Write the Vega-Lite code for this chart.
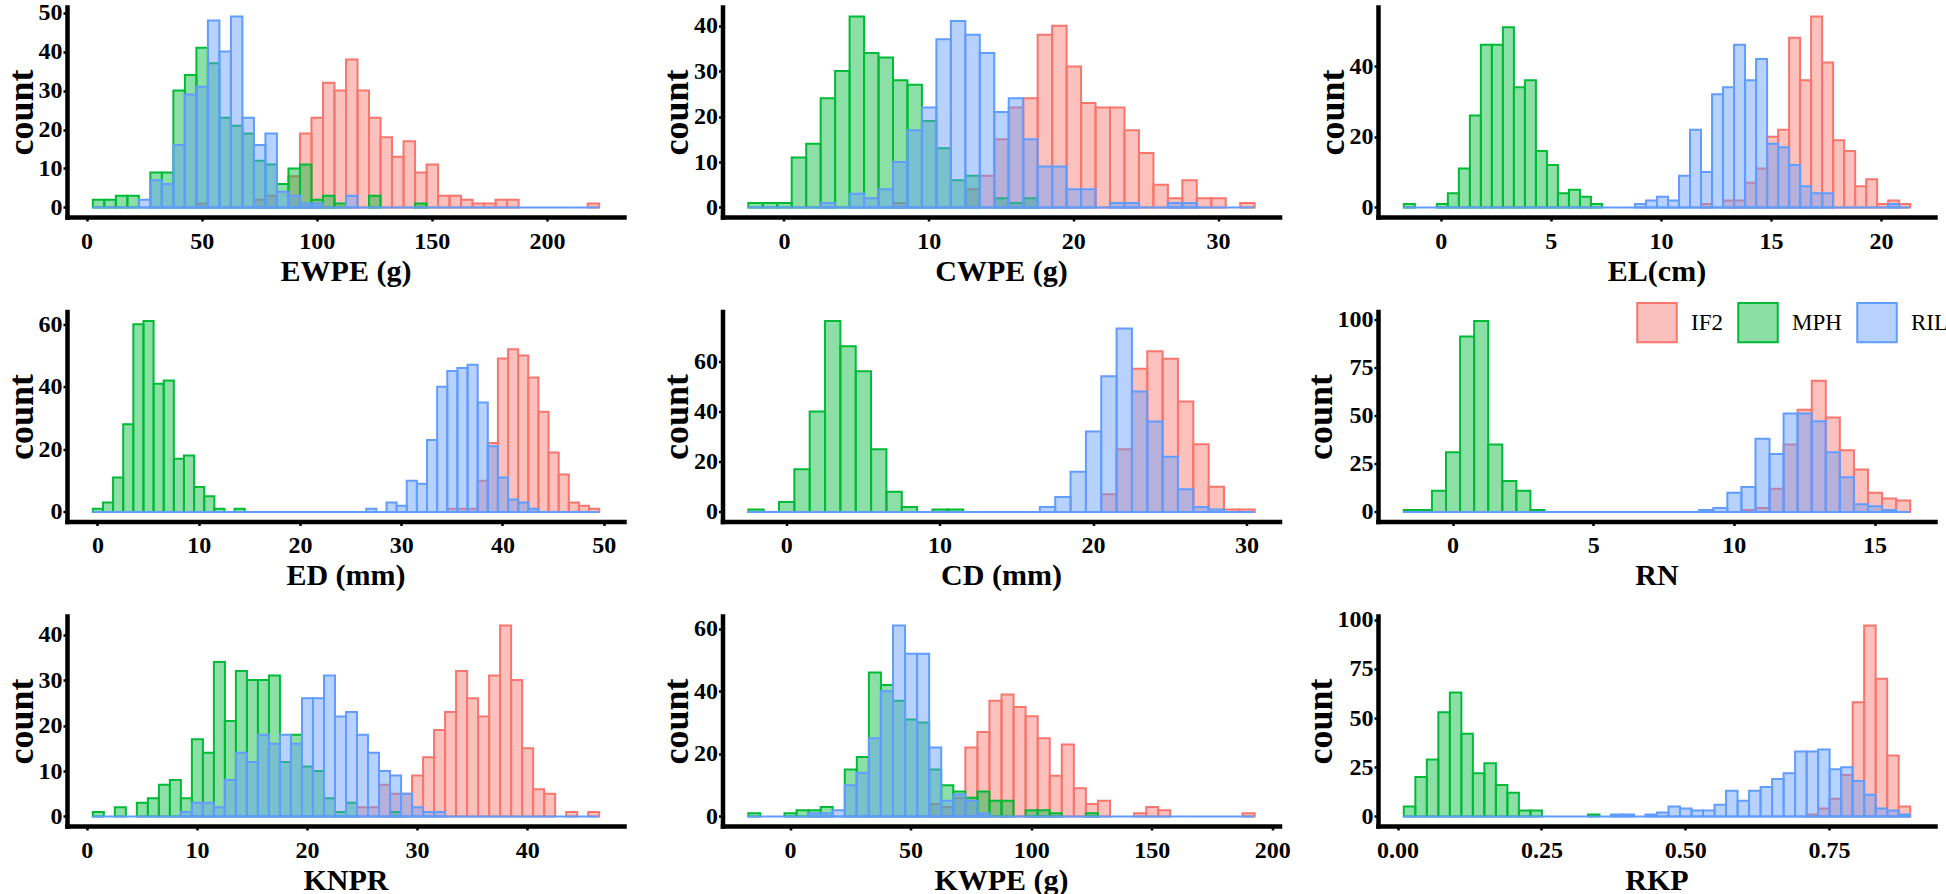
{
"$schema": "https://vega.github.io/schema/vega-lite/v6.json",
"padding": {"left": 3, "top": 0, "right": 0, "bottom": 0},
"background": "white",
"columns": 3,
"bounds": "flush",
"spacing": {"row": 94.5, "column": 98.5},
"resolve": {"scale": {"fill": "independent", "stroke": "independent"}, "legend": {"fill": "independent", "stroke": "independent"}},
"datasets": {
"EWPE": [
{"g":"IF2","x":47.5,"c":1},{"g":"IF2","x":72.5,"c":2},{"g":"IF2","x":77.5,"c":3},{"g":"IF2","x":87.5,"c":8},{"g":"IF2","x":92.5,"c":19},{"g":"IF2","x":97.5,"c":23},{"g":"IF2","x":102.5,"c":32},{"g":"IF2","x":107.5,"c":30},{"g":"IF2","x":112.5,"c":38},{"g":"IF2","x":117.5,"c":30},{"g":"IF2","x":122.5,"c":23},{"g":"IF2","x":127.5,"c":18},{"g":"IF2","x":132.5,"c":13},{"g":"IF2","x":137.5,"c":17},{"g":"IF2","x":142.5,"c":9},{"g":"IF2","x":147.5,"c":11},{"g":"IF2","x":152.5,"c":3},{"g":"IF2","x":157.5,"c":3},{"g":"IF2","x":162.5,"c":2},{"g":"IF2","x":167.5,"c":1},{"g":"IF2","x":172.5,"c":1},{"g":"IF2","x":177.5,"c":2},{"g":"IF2","x":182.5,"c":2},{"g":"IF2","x":217.5,"c":1},
{"g":"MPH","x":2.5,"c":2},{"g":"MPH","x":7.5,"c":2},{"g":"MPH","x":12.5,"c":3},{"g":"MPH","x":17.5,"c":3},{"g":"MPH","x":27.5,"c":9},{"g":"MPH","x":32.5,"c":9},{"g":"MPH","x":37.5,"c":30},{"g":"MPH","x":42.5,"c":34},{"g":"MPH","x":47.5,"c":41},{"g":"MPH","x":52.5,"c":37},{"g":"MPH","x":57.5,"c":23},{"g":"MPH","x":62.5,"c":21},{"g":"MPH","x":67.5,"c":19},{"g":"MPH","x":72.5,"c":12},{"g":"MPH","x":77.5,"c":11},{"g":"MPH","x":82.5,"c":6},{"g":"MPH","x":87.5,"c":10},{"g":"MPH","x":92.5,"c":11},{"g":"MPH","x":97.5,"c":2},{"g":"MPH","x":102.5,"c":3},{"g":"MPH","x":107.5,"c":1},{"g":"MPH","x":122.5,"c":3},{"g":"MPH","x":142.5,"c":1},
{"g":"RIL","x":22.5,"c":2},{"g":"RIL","x":27.5,"c":7},{"g":"RIL","x":32.5,"c":6},{"g":"RIL","x":37.5,"c":16},{"g":"RIL","x":42.5,"c":29},{"g":"RIL","x":47.5,"c":31},{"g":"RIL","x":52.5,"c":48},{"g":"RIL","x":57.5,"c":40},{"g":"RIL","x":62.5,"c":49},{"g":"RIL","x":67.5,"c":23},{"g":"RIL","x":72.5,"c":16},{"g":"RIL","x":77.5,"c":19},{"g":"RIL","x":82.5,"c":4},{"g":"RIL","x":87.5,"c":3},{"g":"RIL","x":92.5,"c":1},{"g":"RIL","x":97.5,"c":1},{"g":"RIL","x":112.5,"c":3}
],
"CWPE": [
{"g":"IF2","x":7.5,"c":1},{"g":"IF2","x":12.5,"c":4},{"g":"IF2","x":13.5,"c":7},{"g":"IF2","x":14.5,"c":15},{"g":"IF2","x":15.5,"c":22},{"g":"IF2","x":16.5,"c":24},{"g":"IF2","x":17.5,"c":38},{"g":"IF2","x":18.5,"c":40},{"g":"IF2","x":19.5,"c":31},{"g":"IF2","x":20.5,"c":23},{"g":"IF2","x":21.5,"c":22},{"g":"IF2","x":22.5,"c":22},{"g":"IF2","x":23.5,"c":17},{"g":"IF2","x":24.5,"c":12},{"g":"IF2","x":25.5,"c":5},{"g":"IF2","x":26.5,"c":2},{"g":"IF2","x":27.5,"c":6},{"g":"IF2","x":28.5,"c":2},{"g":"IF2","x":29.5,"c":2},{"g":"IF2","x":31.5,"c":1},
{"g":"MPH","x":-2.5,"c":1},{"g":"MPH","x":-1.5,"c":1},{"g":"MPH","x":-0.5,"c":1},{"g":"MPH","x":0.5,"c":11},{"g":"MPH","x":1.5,"c":14},{"g":"MPH","x":2.5,"c":24},{"g":"MPH","x":3.5,"c":30},{"g":"MPH","x":4.5,"c":42},{"g":"MPH","x":5.5,"c":34},{"g":"MPH","x":6.5,"c":33},{"g":"MPH","x":7.5,"c":28},{"g":"MPH","x":8.5,"c":27},{"g":"MPH","x":9.5,"c":19},{"g":"MPH","x":10.5,"c":13},{"g":"MPH","x":11.5,"c":6},{"g":"MPH","x":12.5,"c":7},{"g":"MPH","x":14.5,"c":2},{"g":"MPH","x":15.5,"c":1},{"g":"MPH","x":16.5,"c":2},
{"g":"RIL","x":2.5,"c":1},{"g":"RIL","x":4.5,"c":3},{"g":"RIL","x":5.5,"c":2},{"g":"RIL","x":6.5,"c":4},{"g":"RIL","x":7.5,"c":10},{"g":"RIL","x":8.5,"c":17},{"g":"RIL","x":9.5,"c":22},{"g":"RIL","x":10.5,"c":37},{"g":"RIL","x":11.5,"c":41},{"g":"RIL","x":12.5,"c":38},{"g":"RIL","x":13.5,"c":34},{"g":"RIL","x":14.5,"c":21},{"g":"RIL","x":15.5,"c":24},{"g":"RIL","x":16.5,"c":15},{"g":"RIL","x":17.5,"c":9},{"g":"RIL","x":18.5,"c":9},{"g":"RIL","x":19.5,"c":4},{"g":"RIL","x":20.5,"c":4},{"g":"RIL","x":22.5,"c":1},{"g":"RIL","x":23.5,"c":1},{"g":"RIL","x":26.5,"c":1},{"g":"RIL","x":27.5,"c":1}
],
"EL": [
{"g":"IF2","x":11.8,"c":1},{"g":"IF2","x":12.8,"c":2},{"g":"IF2","x":13.3,"c":2},{"g":"IF2","x":13.8,"c":7},{"g":"IF2","x":14.3,"c":11},{"g":"IF2","x":14.8,"c":20},{"g":"IF2","x":15.3,"c":22},{"g":"IF2","x":15.8,"c":48},{"g":"IF2","x":16.3,"c":36},{"g":"IF2","x":16.8,"c":54},{"g":"IF2","x":17.3,"c":41},{"g":"IF2","x":17.8,"c":19},{"g":"IF2","x":18.3,"c":16},{"g":"IF2","x":18.8,"c":6},{"g":"IF2","x":19.3,"c":8},{"g":"IF2","x":19.8,"c":1},{"g":"IF2","x":20.3,"c":2},{"g":"IF2","x":20.8,"c":1},
{"g":"MPH","x":-1.7,"c":1},{"g":"MPH","x":-0.2,"c":1},{"g":"MPH","x":0.3,"c":4},{"g":"MPH","x":0.8,"c":11},{"g":"MPH","x":1.3,"c":26},{"g":"MPH","x":1.8,"c":46},{"g":"MPH","x":2.3,"c":46},{"g":"MPH","x":2.8,"c":51},{"g":"MPH","x":3.3,"c":34},{"g":"MPH","x":3.8,"c":36},{"g":"MPH","x":4.3,"c":16},{"g":"MPH","x":4.8,"c":12},{"g":"MPH","x":5.3,"c":4},{"g":"MPH","x":5.8,"c":5},{"g":"MPH","x":6.3,"c":3},{"g":"MPH","x":6.8,"c":1},
{"g":"RIL","x":8.8,"c":1},{"g":"RIL","x":9.3,"c":2},{"g":"RIL","x":9.8,"c":3},{"g":"RIL","x":10.3,"c":2},{"g":"RIL","x":10.8,"c":9},{"g":"RIL","x":11.3,"c":22},{"g":"RIL","x":11.8,"c":10},{"g":"RIL","x":12.3,"c":32},{"g":"RIL","x":12.8,"c":34},{"g":"RIL","x":13.3,"c":46},{"g":"RIL","x":13.8,"c":36},{"g":"RIL","x":14.3,"c":42},{"g":"RIL","x":14.8,"c":18},{"g":"RIL","x":15.3,"c":17},{"g":"RIL","x":15.8,"c":12},{"g":"RIL","x":16.3,"c":6},{"g":"RIL","x":16.8,"c":4},{"g":"RIL","x":17.3,"c":4},{"g":"RIL","x":20.3,"c":1}
],
"ED": [
{"g":"IF2","x":34.5,"c":1},{"g":"IF2","x":35.5,"c":1},{"g":"IF2","x":36.5,"c":1},{"g":"IF2","x":37.5,"c":10},{"g":"IF2","x":38.5,"c":22},{"g":"IF2","x":39.5,"c":49},{"g":"IF2","x":40.5,"c":52},{"g":"IF2","x":41.5,"c":50},{"g":"IF2","x":42.5,"c":43},{"g":"IF2","x":43.5,"c":32},{"g":"IF2","x":44.5,"c":19},{"g":"IF2","x":45.5,"c":12},{"g":"IF2","x":46.5,"c":3},{"g":"IF2","x":47.5,"c":2},{"g":"IF2","x":48.5,"c":1},
{"g":"MPH","x":-0.5,"c":1},{"g":"MPH","x":0.5,"c":3},{"g":"MPH","x":1.5,"c":11},{"g":"MPH","x":2.5,"c":28},{"g":"MPH","x":3.5,"c":60},{"g":"MPH","x":4.5,"c":61},{"g":"MPH","x":5.5,"c":41},{"g":"MPH","x":6.5,"c":42},{"g":"MPH","x":7.5,"c":17},{"g":"MPH","x":8.5,"c":18},{"g":"MPH","x":9.5,"c":8},{"g":"MPH","x":10.5,"c":5},{"g":"MPH","x":11.5,"c":1},{"g":"MPH","x":13.5,"c":1},
{"g":"RIL","x":26.5,"c":1},{"g":"RIL","x":28.5,"c":3},{"g":"RIL","x":29.5,"c":2},{"g":"RIL","x":30.5,"c":10},{"g":"RIL","x":31.5,"c":9},{"g":"RIL","x":32.5,"c":23},{"g":"RIL","x":33.5,"c":40},{"g":"RIL","x":34.5,"c":45},{"g":"RIL","x":35.5,"c":46},{"g":"RIL","x":36.5,"c":47},{"g":"RIL","x":37.5,"c":35},{"g":"RIL","x":38.5,"c":21},{"g":"RIL","x":39.5,"c":11},{"g":"RIL","x":40.5,"c":4},{"g":"RIL","x":41.5,"c":3},{"g":"RIL","x":42.5,"c":1}
],
"CD": [
{"g":"IF2","x":20.5,"c":7},{"g":"IF2","x":21.5,"c":25},{"g":"IF2","x":22.5,"c":57},{"g":"IF2","x":23.5,"c":64},{"g":"IF2","x":24.5,"c":61},{"g":"IF2","x":25.5,"c":44},{"g":"IF2","x":26.5,"c":27},{"g":"IF2","x":27.5,"c":10},{"g":"IF2","x":28.5,"c":1},{"g":"IF2","x":29.5,"c":1},
{"g":"MPH","x":-2.5,"c":1},{"g":"MPH","x":-0.5,"c":4},{"g":"MPH","x":0.5,"c":17},{"g":"MPH","x":1.5,"c":40},{"g":"MPH","x":2.5,"c":76},{"g":"MPH","x":3.5,"c":66},{"g":"MPH","x":4.5,"c":56},{"g":"MPH","x":5.5,"c":25},{"g":"MPH","x":6.5,"c":8},{"g":"MPH","x":7.5,"c":2},{"g":"MPH","x":9.5,"c":1},{"g":"MPH","x":10.5,"c":1},
{"g":"RIL","x":16.5,"c":2},{"g":"RIL","x":17.5,"c":6},{"g":"RIL","x":18.5,"c":16},{"g":"RIL","x":19.5,"c":32},{"g":"RIL","x":20.5,"c":54},{"g":"RIL","x":21.5,"c":73},{"g":"RIL","x":22.5,"c":48},{"g":"RIL","x":23.5,"c":36},{"g":"RIL","x":24.5,"c":22},{"g":"RIL","x":25.5,"c":9},{"g":"RIL","x":26.5,"c":2},{"g":"RIL","x":27.5,"c":1}
],
"RN": [
{"g":"IF2","x":10.25,"c":1},{"g":"IF2","x":10.75,"c":2},{"g":"IF2","x":11.25,"c":12},{"g":"IF2","x":11.75,"c":35},{"g":"IF2","x":12.25,"c":53},{"g":"IF2","x":12.75,"c":68},{"g":"IF2","x":13.25,"c":49},{"g":"IF2","x":13.75,"c":32},{"g":"IF2","x":14.25,"c":22},{"g":"IF2","x":14.75,"c":10},{"g":"IF2","x":15.25,"c":7},{"g":"IF2","x":15.75,"c":6},
{"g":"MPH","x":-1.75,"c":1},{"g":"MPH","x":-1.25,"c":1},{"g":"MPH","x":-0.75,"c":11},{"g":"MPH","x":-0.25,"c":31},{"g":"MPH","x":0.25,"c":91},{"g":"MPH","x":0.75,"c":99},{"g":"MPH","x":1.25,"c":35},{"g":"MPH","x":1.75,"c":16},{"g":"MPH","x":2.25,"c":11},{"g":"MPH","x":2.75,"c":1},
{"g":"RIL","x":8.75,"c":1},{"g":"RIL","x":9.25,"c":2},{"g":"RIL","x":9.75,"c":10},{"g":"RIL","x":10.25,"c":13},{"g":"RIL","x":10.75,"c":38},{"g":"RIL","x":11.25,"c":30},{"g":"RIL","x":11.75,"c":51},{"g":"RIL","x":12.25,"c":51},{"g":"RIL","x":12.75,"c":47},{"g":"RIL","x":13.25,"c":31},{"g":"RIL","x":13.75,"c":18},{"g":"RIL","x":14.25,"c":4},{"g":"RIL","x":14.75,"c":3},{"g":"RIL","x":15.25,"c":1}
],
"KNPR": [
{"g":"IF2","x":24.5,"c":2},{"g":"IF2","x":25.5,"c":2},{"g":"IF2","x":26.5,"c":7},{"g":"IF2","x":27.5,"c":5},{"g":"IF2","x":28.5,"c":5},{"g":"IF2","x":29.5,"c":9},{"g":"IF2","x":30.5,"c":13},{"g":"IF2","x":31.5,"c":19},{"g":"IF2","x":32.5,"c":23},{"g":"IF2","x":33.5,"c":32},{"g":"IF2","x":34.5,"c":26},{"g":"IF2","x":35.5,"c":22},{"g":"IF2","x":36.5,"c":31},{"g":"IF2","x":37.5,"c":42},{"g":"IF2","x":38.5,"c":30},{"g":"IF2","x":39.5,"c":15},{"g":"IF2","x":40.5,"c":6},{"g":"IF2","x":41.5,"c":5},{"g":"IF2","x":43.5,"c":1},{"g":"IF2","x":45.5,"c":1},
{"g":"MPH","x":0.5,"c":1},{"g":"MPH","x":2.5,"c":2},{"g":"MPH","x":4.5,"c":3},{"g":"MPH","x":5.5,"c":4},{"g":"MPH","x":6.5,"c":7},{"g":"MPH","x":7.5,"c":8},{"g":"MPH","x":8.5,"c":4},{"g":"MPH","x":9.5,"c":17},{"g":"MPH","x":10.5,"c":14},{"g":"MPH","x":11.5,"c":34},{"g":"MPH","x":12.5,"c":21},{"g":"MPH","x":13.5,"c":32},{"g":"MPH","x":14.5,"c":30},{"g":"MPH","x":15.5,"c":30},{"g":"MPH","x":16.5,"c":31},{"g":"MPH","x":17.5,"c":12},{"g":"MPH","x":18.5,"c":18},{"g":"MPH","x":19.5,"c":11},{"g":"MPH","x":20.5,"c":10},{"g":"MPH","x":21.5,"c":4},{"g":"MPH","x":22.5,"c":1},{"g":"MPH","x":23.5,"c":3},{"g":"MPH","x":27.5,"c":1},
{"g":"RIL","x":8.5,"c":1},{"g":"RIL","x":9.5,"c":3},{"g":"RIL","x":10.5,"c":3},{"g":"RIL","x":11.5,"c":2},{"g":"RIL","x":12.5,"c":8},{"g":"RIL","x":13.5,"c":14},{"g":"RIL","x":14.5,"c":12},{"g":"RIL","x":15.5,"c":18},{"g":"RIL","x":16.5,"c":16},{"g":"RIL","x":17.5,"c":18},{"g":"RIL","x":18.5,"c":16},{"g":"RIL","x":19.5,"c":26},{"g":"RIL","x":20.5,"c":26},{"g":"RIL","x":21.5,"c":31},{"g":"RIL","x":22.5,"c":22},{"g":"RIL","x":23.5,"c":23},{"g":"RIL","x":24.5,"c":18},{"g":"RIL","x":25.5,"c":14},{"g":"RIL","x":26.5,"c":10},{"g":"RIL","x":27.5,"c":9},{"g":"RIL","x":28.5,"c":5},{"g":"RIL","x":29.5,"c":2},{"g":"RIL","x":30.5,"c":1},{"g":"RIL","x":31.5,"c":1}
],
"KWPE": [
{"g":"IF2","x":57.5,"c":4},{"g":"IF2","x":62.5,"c":3},{"g":"IF2","x":67.5,"c":6},{"g":"IF2","x":72.5,"c":22},{"g":"IF2","x":77.5,"c":27},{"g":"IF2","x":82.5,"c":37},{"g":"IF2","x":87.5,"c":39},{"g":"IF2","x":92.5,"c":35},{"g":"IF2","x":97.5,"c":32},{"g":"IF2","x":102.5,"c":25},{"g":"IF2","x":107.5,"c":13},{"g":"IF2","x":112.5,"c":23},{"g":"IF2","x":117.5,"c":9},{"g":"IF2","x":122.5,"c":4},{"g":"IF2","x":127.5,"c":5},{"g":"IF2","x":142.5,"c":1},{"g":"IF2","x":147.5,"c":3},{"g":"IF2","x":152.5,"c":2},{"g":"IF2","x":187.5,"c":1},
{"g":"MPH","x":-17.5,"c":1},{"g":"MPH","x":-2.5,"c":1},{"g":"MPH","x":2.5,"c":2},{"g":"MPH","x":7.5,"c":2},{"g":"MPH","x":12.5,"c":3},{"g":"MPH","x":22.5,"c":15},{"g":"MPH","x":27.5,"c":19},{"g":"MPH","x":32.5,"c":46},{"g":"MPH","x":37.5,"c":42},{"g":"MPH","x":42.5,"c":37},{"g":"MPH","x":47.5,"c":31},{"g":"MPH","x":52.5,"c":30},{"g":"MPH","x":57.5,"c":15},{"g":"MPH","x":62.5,"c":10},{"g":"MPH","x":67.5,"c":8},{"g":"MPH","x":72.5,"c":6},{"g":"MPH","x":77.5,"c":8},{"g":"MPH","x":82.5,"c":5},{"g":"MPH","x":87.5,"c":5},{"g":"MPH","x":97.5,"c":2},{"g":"MPH","x":102.5,"c":2},{"g":"MPH","x":107.5,"c":1},{"g":"MPH","x":122.5,"c":1},
{"g":"RIL","x":7.5,"c":1},{"g":"RIL","x":12.5,"c":1},{"g":"RIL","x":17.5,"c":2},{"g":"RIL","x":22.5,"c":10},{"g":"RIL","x":27.5,"c":14},{"g":"RIL","x":32.5,"c":25},{"g":"RIL","x":37.5,"c":40},{"g":"RIL","x":42.5,"c":61},{"g":"RIL","x":47.5,"c":52},{"g":"RIL","x":52.5,"c":52},{"g":"RIL","x":57.5,"c":22},{"g":"RIL","x":62.5,"c":5},{"g":"RIL","x":67.5,"c":7},{"g":"RIL","x":72.5,"c":5},{"g":"RIL","x":77.5,"c":1}
],
"RKP": [
{"g":"IF2","x":0.71,"c":1},{"g":"IF2","x":0.73,"c":4},{"g":"IF2","x":0.75,"c":9},{"g":"IF2","x":0.77,"c":21},{"g":"IF2","x":0.79,"c":58},{"g":"IF2","x":0.81,"c":97},{"g":"IF2","x":0.83,"c":70},{"g":"IF2","x":0.85,"c":31},{"g":"IF2","x":0.87,"c":5},
{"g":"MPH","x":0.01,"c":5},{"g":"MPH","x":0.03,"c":20},{"g":"MPH","x":0.05,"c":29},{"g":"MPH","x":0.07,"c":53},{"g":"MPH","x":0.09,"c":63},{"g":"MPH","x":0.11,"c":42},{"g":"MPH","x":0.13,"c":22},{"g":"MPH","x":0.15,"c":27},{"g":"MPH","x":0.17,"c":16},{"g":"MPH","x":0.19,"c":12},{"g":"MPH","x":0.21,"c":3},{"g":"MPH","x":0.23,"c":3},{"g":"MPH","x":0.33,"c":1},
{"g":"RIL","x":0.37,"c":1},{"g":"RIL","x":0.39,"c":1},{"g":"RIL","x":0.43,"c":1},{"g":"RIL","x":0.45,"c":2},{"g":"RIL","x":0.47,"c":5},{"g":"RIL","x":0.49,"c":4},{"g":"RIL","x":0.51,"c":3},{"g":"RIL","x":0.53,"c":3},{"g":"RIL","x":0.55,"c":6},{"g":"RIL","x":0.57,"c":13},{"g":"RIL","x":0.59,"c":8},{"g":"RIL","x":0.61,"c":13},{"g":"RIL","x":0.63,"c":15},{"g":"RIL","x":0.65,"c":19},{"g":"RIL","x":0.67,"c":22},{"g":"RIL","x":0.69,"c":33},{"g":"RIL","x":0.71,"c":33},{"g":"RIL","x":0.73,"c":34},{"g":"RIL","x":0.75,"c":24},{"g":"RIL","x":0.77,"c":25},{"g":"RIL","x":0.79,"c":18},{"g":"RIL","x":0.81,"c":11},{"g":"RIL","x":0.83,"c":4},{"g":"RIL","x":0.85,"c":3},{"g":"RIL","x":0.87,"c":1}
]
},
"concat": [
{"width": 557, "height": 210, "layer": [
 {"data": {"name": "EWPE"}, "mark": {"type": "bar", "binSpacing": 0, "fillOpacity": 0.45, "strokeWidth": 2},
  "encoding": {
   "x": {"field": "x", "type": "quantitative", "bin": {"binned": true, "step": 5}, "title": "EWPE (g)", "scale": {"domain": [-8.5, 233.5], "nice": false, "zero": false}, "axis": {"values": [0, 50, 100, 150, 200], "format": "d"}},
   "y": {"field": "c", "type": "quantitative", "stack": null, "title": "count", "scale": {"domain": [-2.45, 51.45], "nice": false, "zero": false}, "axis": {"values": [0, 10, 20, 30, 40, 50]}},
   "fill": {"field": "g", "type": "nominal", "legend": null},
   "stroke": {"field": "g", "type": "nominal", "legend": null}}},
 {"data": {"values": [{"lo": 2.5, "hi": 222.5}]}, "mark": {"type": "rule", "stroke": "#619CFF", "strokeWidth": 2},
  "encoding": {"x": {"field": "lo", "type": "quantitative", "title": "EWPE (g)", "scale": {"domain": [-8.5, 233.5], "nice": false, "zero": false}, "axis": {"values": [0, 50, 100, 150, 200], "format": "d"}}, "x2": {"field": "hi"}, "y": {"datum": 0, "type": "quantitative", "title": "count", "scale": {"domain": [-2.45, 51.45], "nice": false, "zero": false}, "axis": {"values": [0, 10, 20, 30, 40, 50]}}}}
]},
{"width": 557, "height": 210, "layer": [
 {"data": {"name": "CWPE"}, "mark": {"type": "bar", "binSpacing": 0, "fillOpacity": 0.45, "strokeWidth": 2},
  "encoding": {
   "x": {"field": "x", "type": "quantitative", "bin": {"binned": true, "step": 1}, "title": "CWPE (g)", "scale": {"domain": [-4.25, 34.25], "nice": false, "zero": false}, "axis": {"values": [0, 10, 20, 30], "format": "d"}},
   "y": {"field": "c", "type": "quantitative", "stack": null, "title": "count", "scale": {"domain": [-2.1, 44.1], "nice": false, "zero": false}, "axis": {"values": [0, 10, 20, 30, 40]}},
   "fill": {"field": "g", "type": "nominal", "legend": null},
   "stroke": {"field": "g", "type": "nominal", "legend": null}}},
 {"data": {"values": [{"lo": -2.5, "hi": 32.5}]}, "mark": {"type": "rule", "stroke": "#619CFF", "strokeWidth": 2},
  "encoding": {"x": {"field": "lo", "type": "quantitative", "title": "CWPE (g)", "scale": {"domain": [-4.25, 34.25], "nice": false, "zero": false}, "axis": {"values": [0, 10, 20, 30], "format": "d"}}, "x2": {"field": "hi"}, "y": {"datum": 0, "type": "quantitative", "title": "count", "scale": {"domain": [-2.1, 44.1], "nice": false, "zero": false}, "axis": {"values": [0, 10, 20, 30, 40]}}}}
]},
{"width": 557, "height": 210, "layer": [
 {"data": {"name": "EL"}, "mark": {"type": "bar", "binSpacing": 0, "fillOpacity": 0.45, "strokeWidth": 2},
  "encoding": {
   "x": {"field": "x", "type": "quantitative", "bin": {"binned": true, "step": 0.5}, "title": "EL(cm)", "scale": {"domain": [-2.85, 22.45], "nice": false, "zero": false}, "axis": {"values": [0, 5, 10, 15, 20], "format": "d"}},
   "y": {"field": "c", "type": "quantitative", "stack": null, "title": "count", "scale": {"domain": [-2.7, 56.7], "nice": false, "zero": false}, "axis": {"values": [0, 20, 40]}},
   "fill": {"field": "g", "type": "nominal", "legend": null},
   "stroke": {"field": "g", "type": "nominal", "legend": null}}},
 {"data": {"values": [{"lo": -1.7, "hi": 21.3}]}, "mark": {"type": "rule", "stroke": "#619CFF", "strokeWidth": 2},
  "encoding": {"x": {"field": "lo", "type": "quantitative", "title": "EL(cm)", "scale": {"domain": [-2.85, 22.45], "nice": false, "zero": false}, "axis": {"values": [0, 5, 10, 15, 20], "format": "d"}}, "x2": {"field": "hi"}, "y": {"datum": 0, "type": "quantitative", "title": "count", "scale": {"domain": [-2.7, 56.7], "nice": false, "zero": false}, "axis": {"values": [0, 20, 40]}}}}
]},
{"width": 557, "height": 210, "layer": [
 {"data": {"name": "ED"}, "mark": {"type": "bar", "binSpacing": 0, "fillOpacity": 0.45, "strokeWidth": 2},
  "encoding": {
   "x": {"field": "x", "type": "quantitative", "bin": {"binned": true, "step": 1}, "title": "ED (mm)", "scale": {"domain": [-3, 52], "nice": false, "zero": false}, "axis": {"values": [0, 10, 20, 30, 40, 50], "format": "d"}},
   "y": {"field": "c", "type": "quantitative", "stack": null, "title": "count", "scale": {"domain": [-3.05, 64.05], "nice": false, "zero": false}, "axis": {"values": [0, 20, 40, 60]}},
   "fill": {"field": "g", "type": "nominal", "legend": null},
   "stroke": {"field": "g", "type": "nominal", "legend": null}}},
 {"data": {"values": [{"lo": -0.5, "hi": 49.5}]}, "mark": {"type": "rule", "stroke": "#619CFF", "strokeWidth": 2},
  "encoding": {"x": {"field": "lo", "type": "quantitative", "title": "ED (mm)", "scale": {"domain": [-3, 52], "nice": false, "zero": false}, "axis": {"values": [0, 10, 20, 30, 40, 50], "format": "d"}}, "x2": {"field": "hi"}, "y": {"datum": 0, "type": "quantitative", "title": "count", "scale": {"domain": [-3.05, 64.05], "nice": false, "zero": false}, "axis": {"values": [0, 20, 40, 60]}}}}
]},
{"width": 557, "height": 210, "layer": [
 {"data": {"name": "CD"}, "mark": {"type": "bar", "binSpacing": 0, "fillOpacity": 0.45, "strokeWidth": 2},
  "encoding": {
   "x": {"field": "x", "type": "quantitative", "bin": {"binned": true, "step": 1}, "title": "CD (mm)", "scale": {"domain": [-4.15, 32.15], "nice": false, "zero": false}, "axis": {"values": [0, 10, 20, 30], "format": "d"}},
   "y": {"field": "c", "type": "quantitative", "stack": null, "title": "count", "scale": {"domain": [-3.8, 79.8], "nice": false, "zero": false}, "axis": {"values": [0, 20, 40, 60]}},
   "fill": {"field": "g", "type": "nominal", "legend": null},
   "stroke": {"field": "g", "type": "nominal", "legend": null}}},
 {"data": {"values": [{"lo": -2.5, "hi": 30.5}]}, "mark": {"type": "rule", "stroke": "#619CFF", "strokeWidth": 2},
  "encoding": {"x": {"field": "lo", "type": "quantitative", "title": "CD (mm)", "scale": {"domain": [-4.15, 32.15], "nice": false, "zero": false}, "axis": {"values": [0, 10, 20, 30], "format": "d"}}, "x2": {"field": "hi"}, "y": {"datum": 0, "type": "quantitative", "title": "count", "scale": {"domain": [-3.8, 79.8], "nice": false, "zero": false}, "axis": {"values": [0, 20, 40, 60]}}}}
]},
{"width": 557, "height": 210, "layer": [
 {"data": {"name": "RN"}, "mark": {"type": "bar", "binSpacing": 0, "fillOpacity": 0.45, "strokeWidth": 2},
  "encoding": {
   "x": {"field": "x", "type": "quantitative", "bin": {"binned": true, "step": 0.5}, "title": "RN", "scale": {"domain": [-2.65, 17.15], "nice": false, "zero": false}, "axis": {"values": [0, 5, 10, 15], "format": "d"}},
   "y": {"field": "c", "type": "quantitative", "stack": null, "title": "count", "scale": {"domain": [-4.95, 103.95], "nice": false, "zero": false}, "axis": {"values": [0, 25, 50, 75, 100]}},
   "fill": {"field": "g", "type": "nominal", "legend": {"title": null, "orient": "none", "legendX": 258, "legendY": -10, "direction": "horizontal", "symbolType": "square", "symbolSize": 1560, "symbolOpacity": 0.45, "symbolStrokeColor": "transparent", "symbolStrokeWidth": 2, "labelFont": "Liberation Serif", "labelFontSize": 23, "labelFontWeight": "normal", "labelColor": "#000", "labelOpacity": 0, "labelOffset": 13, "columnPadding": 11, "padding": 0}},
   "stroke": {"field": "g", "type": "nominal", "scale": {"domain": ["IF2", "MPH", "RIL"]}, "legend": {"title": null, "orient": "none", "legendX": 258, "legendY": -10, "direction": "horizontal", "symbolType": "square", "symbolSize": 1560, "symbolFillColor": "transparent", "symbolStrokeWidth": 2, "labelFont": "Liberation Serif", "labelFontSize": 23, "labelFontWeight": "normal", "labelColor": "#000", "labelOffset": 13, "columnPadding": 11, "padding": 0}}}},
 {"data": {"values": [{"lo": -1.75, "hi": 16.25}]}, "mark": {"type": "rule", "stroke": "#619CFF", "strokeWidth": 2},
  "encoding": {"x": {"field": "lo", "type": "quantitative", "title": "RN", "scale": {"domain": [-2.65, 17.15], "nice": false, "zero": false}, "axis": {"values": [0, 5, 10, 15], "format": "d"}}, "x2": {"field": "hi"}, "y": {"datum": 0, "type": "quantitative", "title": "count", "scale": {"domain": [-4.95, 103.95], "nice": false, "zero": false}, "axis": {"values": [0, 25, 50, 75, 100]}}}}
]},
{"width": 557, "height": 210, "layer": [
 {"data": {"name": "KNPR"}, "mark": {"type": "bar", "binSpacing": 0, "fillOpacity": 0.45, "strokeWidth": 2},
  "encoding": {
   "x": {"field": "x", "type": "quantitative", "bin": {"binned": true, "step": 1}, "title": "KNPR", "scale": {"domain": [-1.8, 48.8], "nice": false, "zero": false}, "axis": {"values": [0, 10, 20, 30, 40], "format": "d"}},
   "y": {"field": "c", "type": "quantitative", "stack": null, "title": "count", "scale": {"domain": [-2.1, 44.1], "nice": false, "zero": false}, "axis": {"values": [0, 10, 20, 30, 40]}},
   "fill": {"field": "g", "type": "nominal", "legend": null},
   "stroke": {"field": "g", "type": "nominal", "legend": null}}},
 {"data": {"values": [{"lo": 0.5, "hi": 46.5}]}, "mark": {"type": "rule", "stroke": "#619CFF", "strokeWidth": 2},
  "encoding": {"x": {"field": "lo", "type": "quantitative", "title": "KNPR", "scale": {"domain": [-1.8, 48.8], "nice": false, "zero": false}, "axis": {"values": [0, 10, 20, 30, 40], "format": "d"}}, "x2": {"field": "hi"}, "y": {"datum": 0, "type": "quantitative", "title": "count", "scale": {"domain": [-2.1, 44.1], "nice": false, "zero": false}, "axis": {"values": [0, 10, 20, 30, 40]}}}}
]},
{"width": 557, "height": 210, "layer": [
 {"data": {"name": "KWPE"}, "mark": {"type": "bar", "binSpacing": 0, "fillOpacity": 0.45, "strokeWidth": 2},
  "encoding": {
   "x": {"field": "x", "type": "quantitative", "bin": {"binned": true, "step": 5}, "title": "KWPE (g)", "scale": {"domain": [-28, 203], "nice": false, "zero": false}, "axis": {"values": [0, 50, 100, 150, 200], "format": "d"}},
   "y": {"field": "c", "type": "quantitative", "stack": null, "title": "count", "scale": {"domain": [-3.05, 64.05], "nice": false, "zero": false}, "axis": {"values": [0, 20, 40, 60]}},
   "fill": {"field": "g", "type": "nominal", "legend": null},
   "stroke": {"field": "g", "type": "nominal", "legend": null}}},
 {"data": {"values": [{"lo": -17.5, "hi": 192.5}]}, "mark": {"type": "rule", "stroke": "#619CFF", "strokeWidth": 2},
  "encoding": {"x": {"field": "lo", "type": "quantitative", "title": "KWPE (g)", "scale": {"domain": [-28, 203], "nice": false, "zero": false}, "axis": {"values": [0, 50, 100, 150, 200], "format": "d"}}, "x2": {"field": "hi"}, "y": {"datum": 0, "type": "quantitative", "title": "count", "scale": {"domain": [-3.05, 64.05], "nice": false, "zero": false}, "axis": {"values": [0, 20, 40, 60]}}}}
]},
{"width": 557, "height": 210, "layer": [
 {"data": {"name": "RKP"}, "mark": {"type": "bar", "binSpacing": 0, "fillOpacity": 0.45, "strokeWidth": 2},
  "encoding": {
   "x": {"field": "x", "type": "quantitative", "bin": {"binned": true, "step": 0.02}, "title": "RKP", "scale": {"domain": [-0.034, 0.934], "nice": false, "zero": false}, "axis": {"values": [0, 0.25, 0.5, 0.75], "format": ".2f"}},
   "y": {"field": "c", "type": "quantitative", "stack": null, "title": "count", "scale": {"domain": [-4.85, 101.85], "nice": false, "zero": false}, "axis": {"values": [0, 25, 50, 75, 100]}},
   "fill": {"field": "g", "type": "nominal", "legend": null},
   "stroke": {"field": "g", "type": "nominal", "legend": null}}},
 {"data": {"values": [{"lo": 0.01, "hi": 0.89}]}, "mark": {"type": "rule", "stroke": "#619CFF", "strokeWidth": 2},
  "encoding": {"x": {"field": "lo", "type": "quantitative", "title": "RKP", "scale": {"domain": [-0.034, 0.934], "nice": false, "zero": false}, "axis": {"values": [0, 0.25, 0.5, 0.75], "format": ".2f"}}, "x2": {"field": "hi"}, "y": {"datum": 0, "type": "quantitative", "title": "count", "scale": {"domain": [-4.85, 101.85], "nice": false, "zero": false}, "axis": {"values": [0, 25, 50, 75, 100]}}}}
]}
],
"config": {
 "font": "Liberation Serif",
 "view": {"stroke": null},
 "range": {"category": ["#F8766D", "#00BA38", "#619CFF"]},
 "axis": {"grid": false, "domainColor": "#000000", "domainWidth": 4.5, "domainCap": "square", "tickColor": "#000000", "tickWidth": 2.5, "tickSize": 4, "labelFont": "Liberation Serif", "labelFontSize": 24, "labelFontWeight": "bold", "labelColor": "#000000", "titleFont": "Liberation Serif", "titleFontWeight": "bold", "titleColor": "#000000", "labelFlush": false, "labelOverlap": false},
 "axisX": {"labelPadding": 8, "titleFontSize": 30, "titlePadding": 3},
 "axisY": {"labelPadding": 1, "titleFontSize": 36, "titlePadding": -2}
}
}
